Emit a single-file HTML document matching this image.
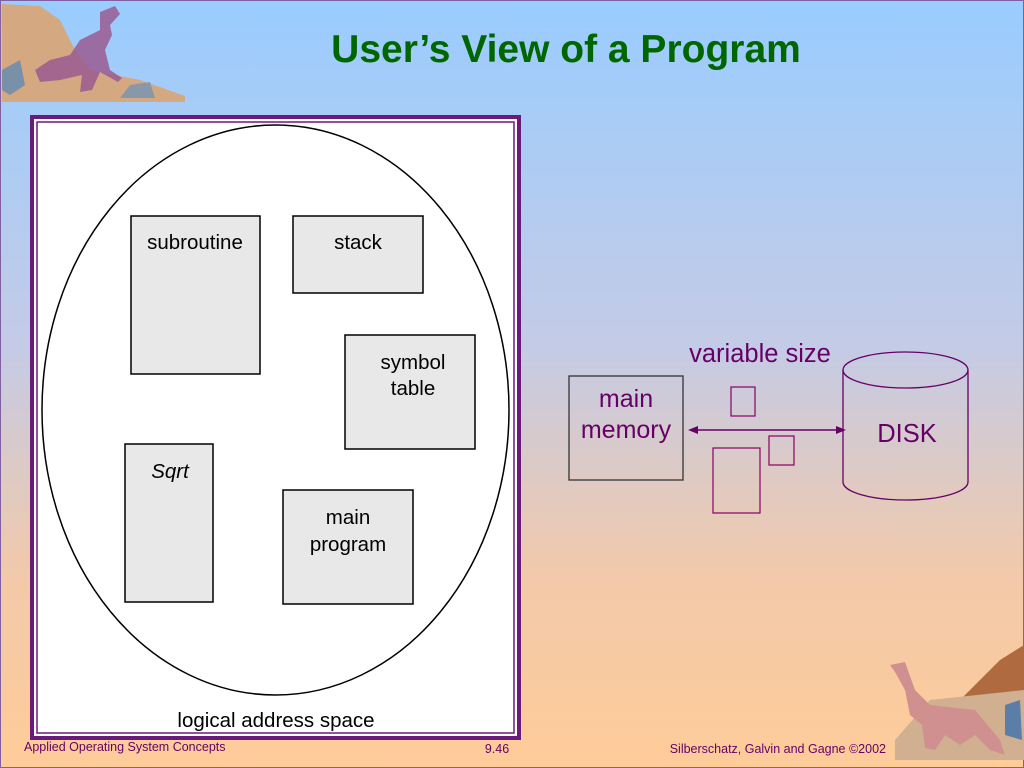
<!DOCTYPE html>
<html><head><meta charset="utf-8"><style>
html,body{margin:0;padding:0;width:1024px;height:768px;overflow:hidden}
svg{display:block}
text{font-family:"Liberation Sans",sans-serif}
</style></head><body>
<svg width="1024" height="768" viewBox="0 0 1024 768" xmlns="http://www.w3.org/2000/svg">
<defs>
<linearGradient id="bg" x1="0" y1="0" x2="0" y2="1">
<stop offset="0" stop-color="#99ccff"/>
<stop offset="0.45" stop-color="#c4cbe6"/>
<stop offset="0.75" stop-color="#f2c9aa"/>
<stop offset="1" stop-color="#ffcc99"/>
</linearGradient>
</defs>
<rect width="1024" height="768" fill="url(#bg)"/>
<rect x="0.5" y="0.5" width="1023" height="767" fill="none" stroke="#8060a0" stroke-width="1"/>
<path d="M2,4 L40,6 L60,20 L75,50 L90,70 L140,80 L185,96 L185,102 L2,102 Z" fill="#d4a880"/>
<path d="M2,70 L20,60 L25,85 L10,95 L2,90Z" fill="#7890a8"/>
<path d="M130,85 L150,82 L155,98 L120,98Z" fill="#8898a8"/>
<path d="M80,40 L100,30 L100,12 L115,6 L120,14 L110,25 L112,35 L105,50 L110,70 L122,78 L118,82 L100,72 L92,90 L80,92 L82,75 L60,80 L40,82 L35,70 L50,60 L70,55 Z" fill="#9a5a90" opacity="0.85"/>
<path d="M960,700 L1000,660 L1024,645 L1024,700Z" fill="#b06a40"/>
<path d="M895,740 L930,700 L1024,690 L1024,760 L895,760Z" fill="#d0b090"/>
<path d="M1005,705 L1020,700 L1022,740 L1005,735Z" fill="#5a7ea8"/>
<path d="M890,665 L905,662 L915,690 L930,705 L975,710 L1000,740 L1005,755 L990,750 L975,735 L960,745 L945,735 L935,750 L925,748 L922,725 L910,715 L905,690 L895,672Z" fill="#d09090"/>
<text x="566" y="62" text-anchor="middle" font-size="39" font-weight="bold" fill="#006600">User’s View of a Program</text>
<rect x="32" y="117" width="487" height="621" fill="#fff" stroke="#6a1a7a" stroke-width="4"/>
<rect x="37" y="122" width="477" height="611" fill="none" stroke="#6a1a7a" stroke-width="1.5"/>
<ellipse cx="275.5" cy="410" rx="233.5" ry="285" fill="#fff" stroke="#000" stroke-width="1.5"/>
<g stroke="#000" stroke-width="1.5" fill="#e8e8e8">
<rect x="131" y="216" width="129" height="158"/>
<rect x="293" y="216" width="130" height="77"/>
<rect x="345" y="335" width="130" height="114"/>
<rect x="125" y="444" width="88" height="158"/>
<rect x="283" y="490" width="130" height="114"/>
</g>
<g font-size="20.5" fill="#000" text-anchor="middle">
<text x="195" y="249">subroutine</text>
<text x="358" y="249">stack</text>
<text x="413" y="369">symbol</text>
<text x="413" y="395">table</text>
<text x="170" y="478" font-style="italic">Sqrt</text>
<text x="348" y="524">main</text>
<text x="348" y="551">program</text>
<text x="276" y="727">logical address space</text>
</g>
<rect x="569" y="376" width="114" height="104" fill="none" stroke="#333" stroke-width="1.3"/>
<text x="626" y="407" text-anchor="middle" font-size="25" fill="#660066">main</text>
<text x="626" y="438" text-anchor="middle" font-size="25" fill="#660066">memory</text>
<text x="760" y="362" text-anchor="middle" font-size="25.5" fill="#660066">variable size</text>
<line x1="694" y1="430" x2="840" y2="430" stroke="#660066" stroke-width="1.5"/>
<path d="M688,430 L698,426 L698,434Z" fill="#660066"/>
<path d="M846,430 L836,426 L836,434Z" fill="#660066"/>
<g fill="none" stroke="#880066" stroke-width="1.2">
<rect x="731" y="387" width="24" height="29"/>
<rect x="769" y="436" width="25" height="29"/>
<rect x="713" y="448" width="47" height="65"/>
</g>
<path d="M843,370 L843,482 A62.5,18 0 0 0 968,482 L968,370" fill="none" stroke="#660066" stroke-width="1.3"/>
<ellipse cx="905.5" cy="370" rx="62.5" ry="18" fill="none" stroke="#660066" stroke-width="1.3"/>
<text x="907" y="442" text-anchor="middle" font-size="25.5" fill="#660066">DISK</text>
<g font-size="12.5" fill="#660066">
<text x="24" y="751">Applied Operating System Concepts</text>
<text x="497" y="753" text-anchor="middle">9.46</text>
<text x="886" y="753" text-anchor="end">Silberschatz, Galvin and  Gagne ©2002</text>
</g>
</svg>
</body></html>
